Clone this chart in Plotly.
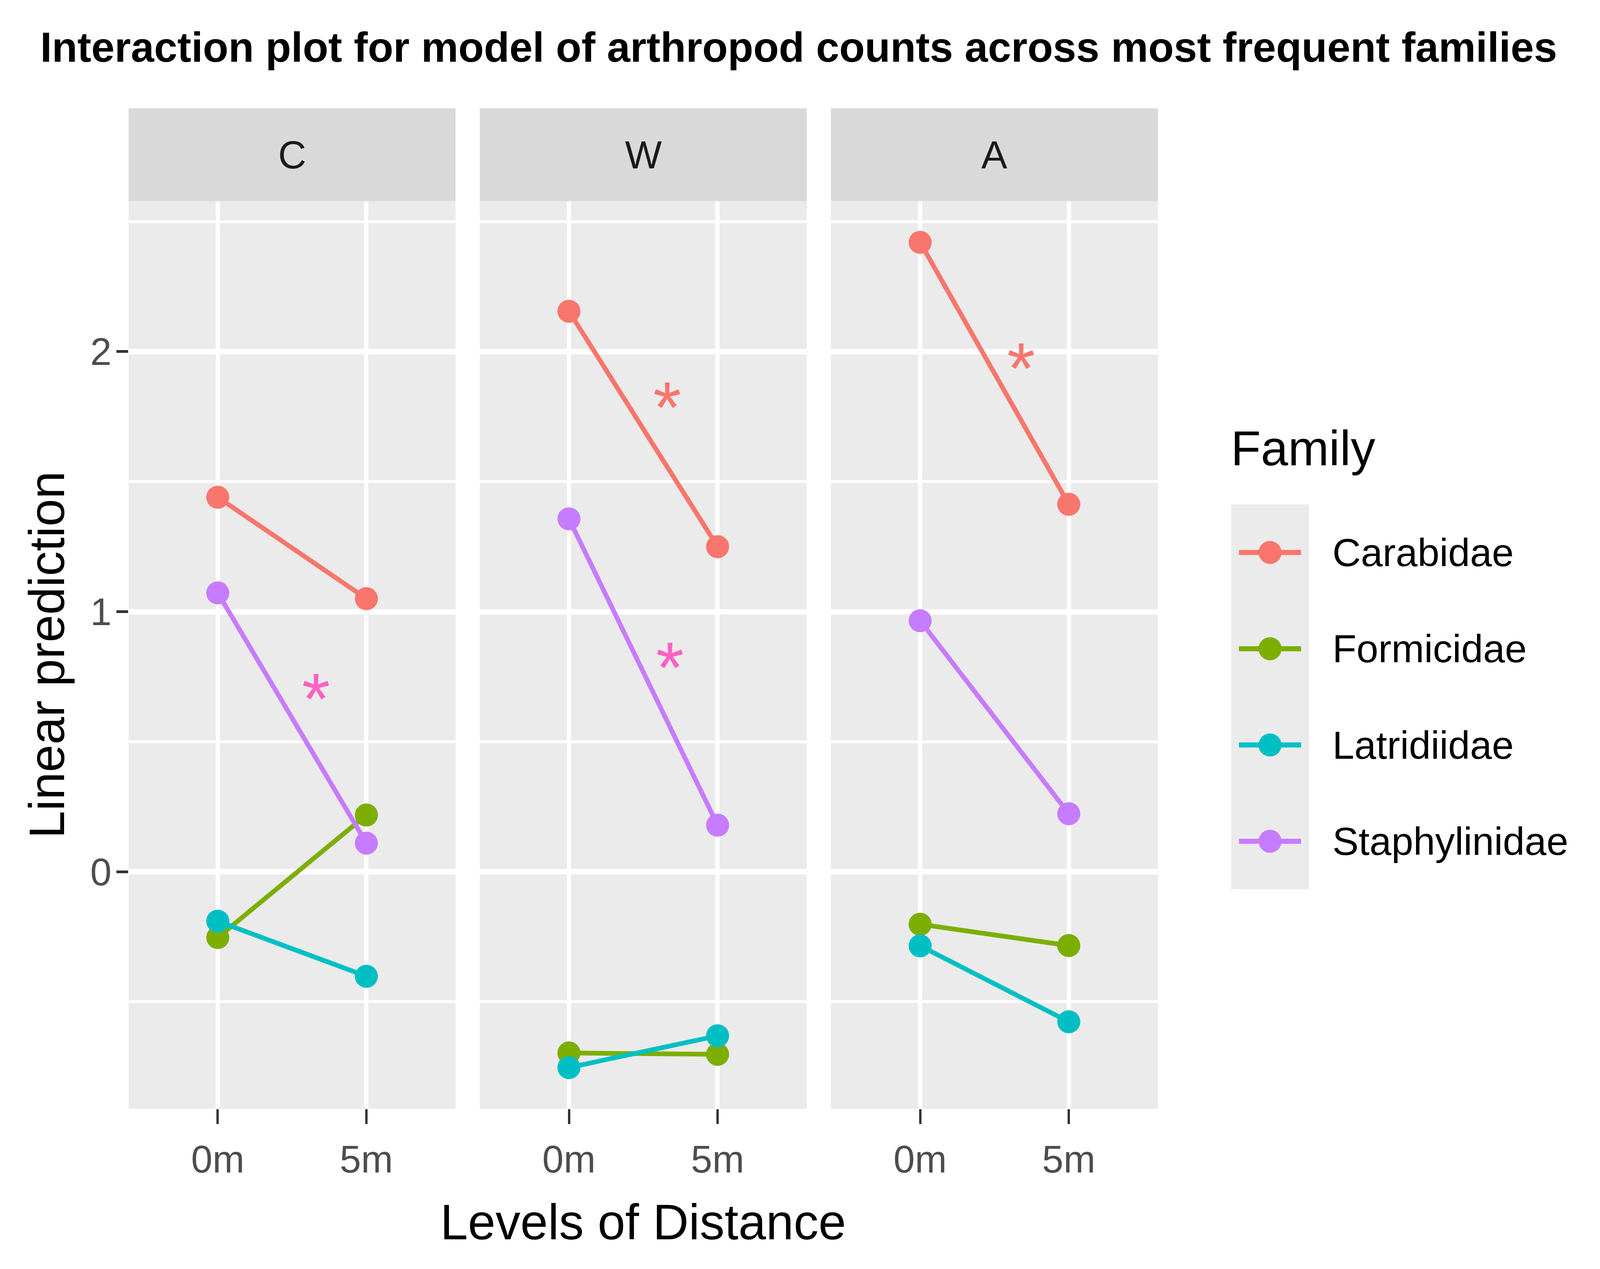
"""
Interaction plot (emmip style) of arthropod counts, faceted by treatment.
"""
import plotly.graph_objects as go

# --- data ------------------------------------------------------------------
treatments = ["C", "W", "A"]
distances = ["0m", "5m"]
families = ["Carabidae", "Formicidae", "Latridiidae", "Staphylinidae"]

# linear predictions, order: C 0m, C 5m, W 0m, W 5m, A 0m, A 5m
carabidae = [1.44, 1.05, 2.155, 1.25, 2.42, 1.413]
formicidae = [-0.253, 0.218, -0.697, -0.702, -0.202, -0.284]
latridiidae = [-0.19, -0.402, -0.753, -0.631, -0.285, -0.577]
staphylinidae = [1.072, 0.11, 1.357, 0.179, 0.965, 0.223]

# significance stars (panel, family, x in category units, y)
star_panel = ["C", "W", "W", "A"]
star_family = ["Staphylinidae", "Carabidae", "Staphylinidae", "Carabidae"]
star_x = [0.66, 0.66, 0.68, 0.68]
star_y = [0.73, 1.85, 0.85, 2.0]

# --- styling ----------------------------------------------------------------
# positions below were measured on the 5094x3248 reference; the visible page
# area is about 4100x3250 css px, so map them onto that (8px body margin)
W, H = 5094, 3248
VIEW_W, VIEW_H = 4100, 3240
BODY = 8
FIG_W = VIEW_W - 2 * BODY
FIG_H = VIEW_H - 2 * BODY
SX = VIEW_W / W
SY = VIEW_H / H
FONT = "Liberation Sans, Arial, sans-serif"


def fs(v):
    """reference px -> css px for font sizes"""
    return v * SX


def px_x(p):
    return (p * SX - BODY) / FIG_W


def px_y(p):
    return 1 - (p * SY - BODY) / FIG_H


colors = {
    "Carabidae": "#F8766D",
    "Formicidae": "#7CAE00",
    "Latridiidae": "#00BFC4",
    "Staphylinidae": "#C77CFF",
}
star_colors = {"Carabidae": "#F8766D", "Staphylinidae": "#FF61C3"}
values = {
    "Carabidae": carabidae,
    "Formicidae": formicidae,
    "Latridiidae": latridiidae,
    "Staphylinidae": staphylinidae,
}

# panel geometry in reference pixels
panel_left = [409, 1526, 2643]
panel_w = 1040
strip_top, panel_top, panel_bottom = 278, 516, 2845

# y range = data range expanded by 5%
all_vals = carabidae + formicidae + latridiidae + staphylinidae
ymin, ymax = min(all_vals), max(all_vals)
pad = 0.05 * (ymax - ymin)
y_range = [ymin - pad, ymax + pad]

fig = go.Figure()

# lines first, then points (ggplot draws geom_line below geom_point)
for mode in ["lines", "markers"]:
    for i, t in enumerate(treatments):
        ax = "" if i == 0 else str(i + 1)
        for fam in families:
            fig.add_trace(go.Scatter(
                x=distances,
                y=values[fam][2 * i:2 * i + 2],
                mode=mode,
                line=dict(color=colors[fam], width=12),
                marker=dict(color=colors[fam], size=59),
                xaxis="x" + ax,
                yaxis="y" + ax,
                showlegend=False,
                hoverinfo="skip",
            ))

# hand-drawn legend keys on their own little axis
for fam in families:
    fig.add_trace(go.Scatter(
        x=[0.1, 0.9], y=[fam, fam], mode="lines",
        line=dict(color=colors[fam], width=13),
        xaxis="x4", yaxis="y4", showlegend=False, hoverinfo="skip",
    ))
    fig.add_trace(go.Scatter(
        x=[0.5], y=[fam], mode="markers",
        marker=dict(color=colors[fam], size=59),
        xaxis="x4", yaxis="y4", showlegend=False, hoverinfo="skip",
    ))

tick_font = dict(family=FONT, size=fs(122), color="#4D4D4D")
layout = dict(
    width=FIG_W,
    height=FIG_H,
    margin=dict(l=0, r=0, t=0, b=0),
    paper_bgcolor="white",
    plot_bgcolor="#EBEBEB",
    font=dict(family=FONT, color="black"),
    showlegend=False,
)

for i, t in enumerate(treatments):
    ax = "" if i == 0 else str(i + 1)
    x0 = panel_left[i]
    layout["xaxis" + ax] = dict(
        domain=[px_x(x0), px_x(x0 + panel_w)],
        anchor="y" + ax,
        type="category",
        categoryorder="array",
        categoryarray=distances,
        range=[-0.6, 1.6],
        showgrid=True, gridcolor="white", gridwidth=11,
        zeroline=False, showline=False,
        ticks="outside", ticklen=38, tickwidth=6, tickcolor="#333333",
        tickfont=tick_font, ticklabelstandoff=6,
        fixedrange=True,
    )
    layout["yaxis" + ax] = dict(
        domain=[px_y(panel_bottom), px_y(panel_top)],
        anchor="x" + ax,
        range=y_range,
        tickvals=[0, 1, 2],
        showgrid=True, gridcolor="white", gridwidth=14,
        minor=dict(tickvals=[-0.5, 0.5, 1.5, 2.5], showgrid=True,
                   gridcolor="white", gridwidth=7, ticks=""),
        zeroline=False, showline=False,
        ticks="outside" if i == 0 else "",
        ticklen=30, tickwidth=7, tickcolor="#333333",
        showticklabels=(i == 0),
        tickfont=tick_font, ticklabelstandoff=-7,
        fixedrange=True,
    )
    if i > 0:
        layout["yaxis" + ax]["matches"] = "y"

# legend key axis
key_left, key_right, key_top, key_bottom = 3916, 4163, 1294, 2282
layout["xaxis4"] = dict(
    domain=[px_x(key_left), px_x(key_right)], anchor="y4", range=[0, 1],
    visible=False, fixedrange=True,
)
layout["yaxis4"] = dict(
    domain=[px_y(key_bottom), px_y(key_top)], anchor="x4",
    type="category", categoryorder="array", categoryarray=families,
    range=[len(families) - 0.5, -0.5],
    visible=False, fixedrange=True,
)

fig.update_layout(**layout)

shapes = []
annotations = []

# facet strips
for i, t in enumerate(treatments):
    x0 = panel_left[i]
    shapes.append(dict(
        type="rect", xref="paper", yref="paper",
        x0=px_x(x0), x1=px_x(x0 + panel_w),
        y0=px_y(panel_top), y1=px_y(strip_top),
        fillcolor="#D9D9D9", line=dict(width=0), layer="below",
    ))
    annotations.append(dict(
        text=t, xref="paper", yref="paper",
        x=px_x(x0 + panel_w / 2), y=px_y((strip_top + panel_top) / 2),
        showarrow=False, xanchor="center", yanchor="middle",
        font=dict(family=FONT, size=fs(124), color="#1A1A1A"),
    ))

# significance stars
for p, fam, sx, sy in zip(star_panel, star_family, star_x, star_y):
    i = treatments.index(p)
    ax = "" if i == 0 else str(i + 1)
    annotations.append(dict(
        text="*", xref="x" + ax, yref="y" + ax, x=sx, y=sy,
        showarrow=False, xanchor="center", yanchor="middle", yshift=-43,
        font=dict(family=FONT, size=fs(230), color=star_colors[fam]),
    ))

# legend labels and title
for fam in families:
    annotations.append(dict(
        text=fam, xref="paper", yref="y4", x=px_x(4235), y=fam,
        showarrow=False, xanchor="left", yanchor="middle",
        font=dict(family=FONT, size=fs(125), color="black"),
    ))
annotations.append(dict(
    text="Family", xref="paper", yref="paper", x=px_x(3912), y=px_y(1150),
    showarrow=False, xanchor="left", yanchor="middle",
    font=dict(family=FONT, size=fs(156), color="black"),
))

# axis titles and main title
annotations.append(dict(
    text="Levels of Distance", xref="paper", yref="paper",
    x=px_x((panel_left[0] + panel_left[2] + panel_w) / 2), y=px_y(3136),
    showarrow=False, xanchor="center", yanchor="middle",
    font=dict(family=FONT, size=fs(158), color="black"),
))
annotations.append(dict(
    text="Linear prediction", xref="paper", yref="paper",
    x=px_x(150), y=px_y((panel_top + panel_bottom) / 2), textangle=-90,
    showarrow=False, xanchor="center", yanchor="middle",
    font=dict(family=FONT, size=fs(158), color="black"),
))
annotations.append(dict(
    text="<b>Interaction plot for model of arthropod counts across most frequent families</b>",
    xref="paper", yref="paper", x=px_x(2540), y=px_y(121),
    showarrow=False, xanchor="center", yanchor="middle",
    font=dict(family=FONT, size=fs(133), color="black"),
))

fig.update_layout(shapes=shapes, annotations=annotations)

fig.write_html("out.html")
